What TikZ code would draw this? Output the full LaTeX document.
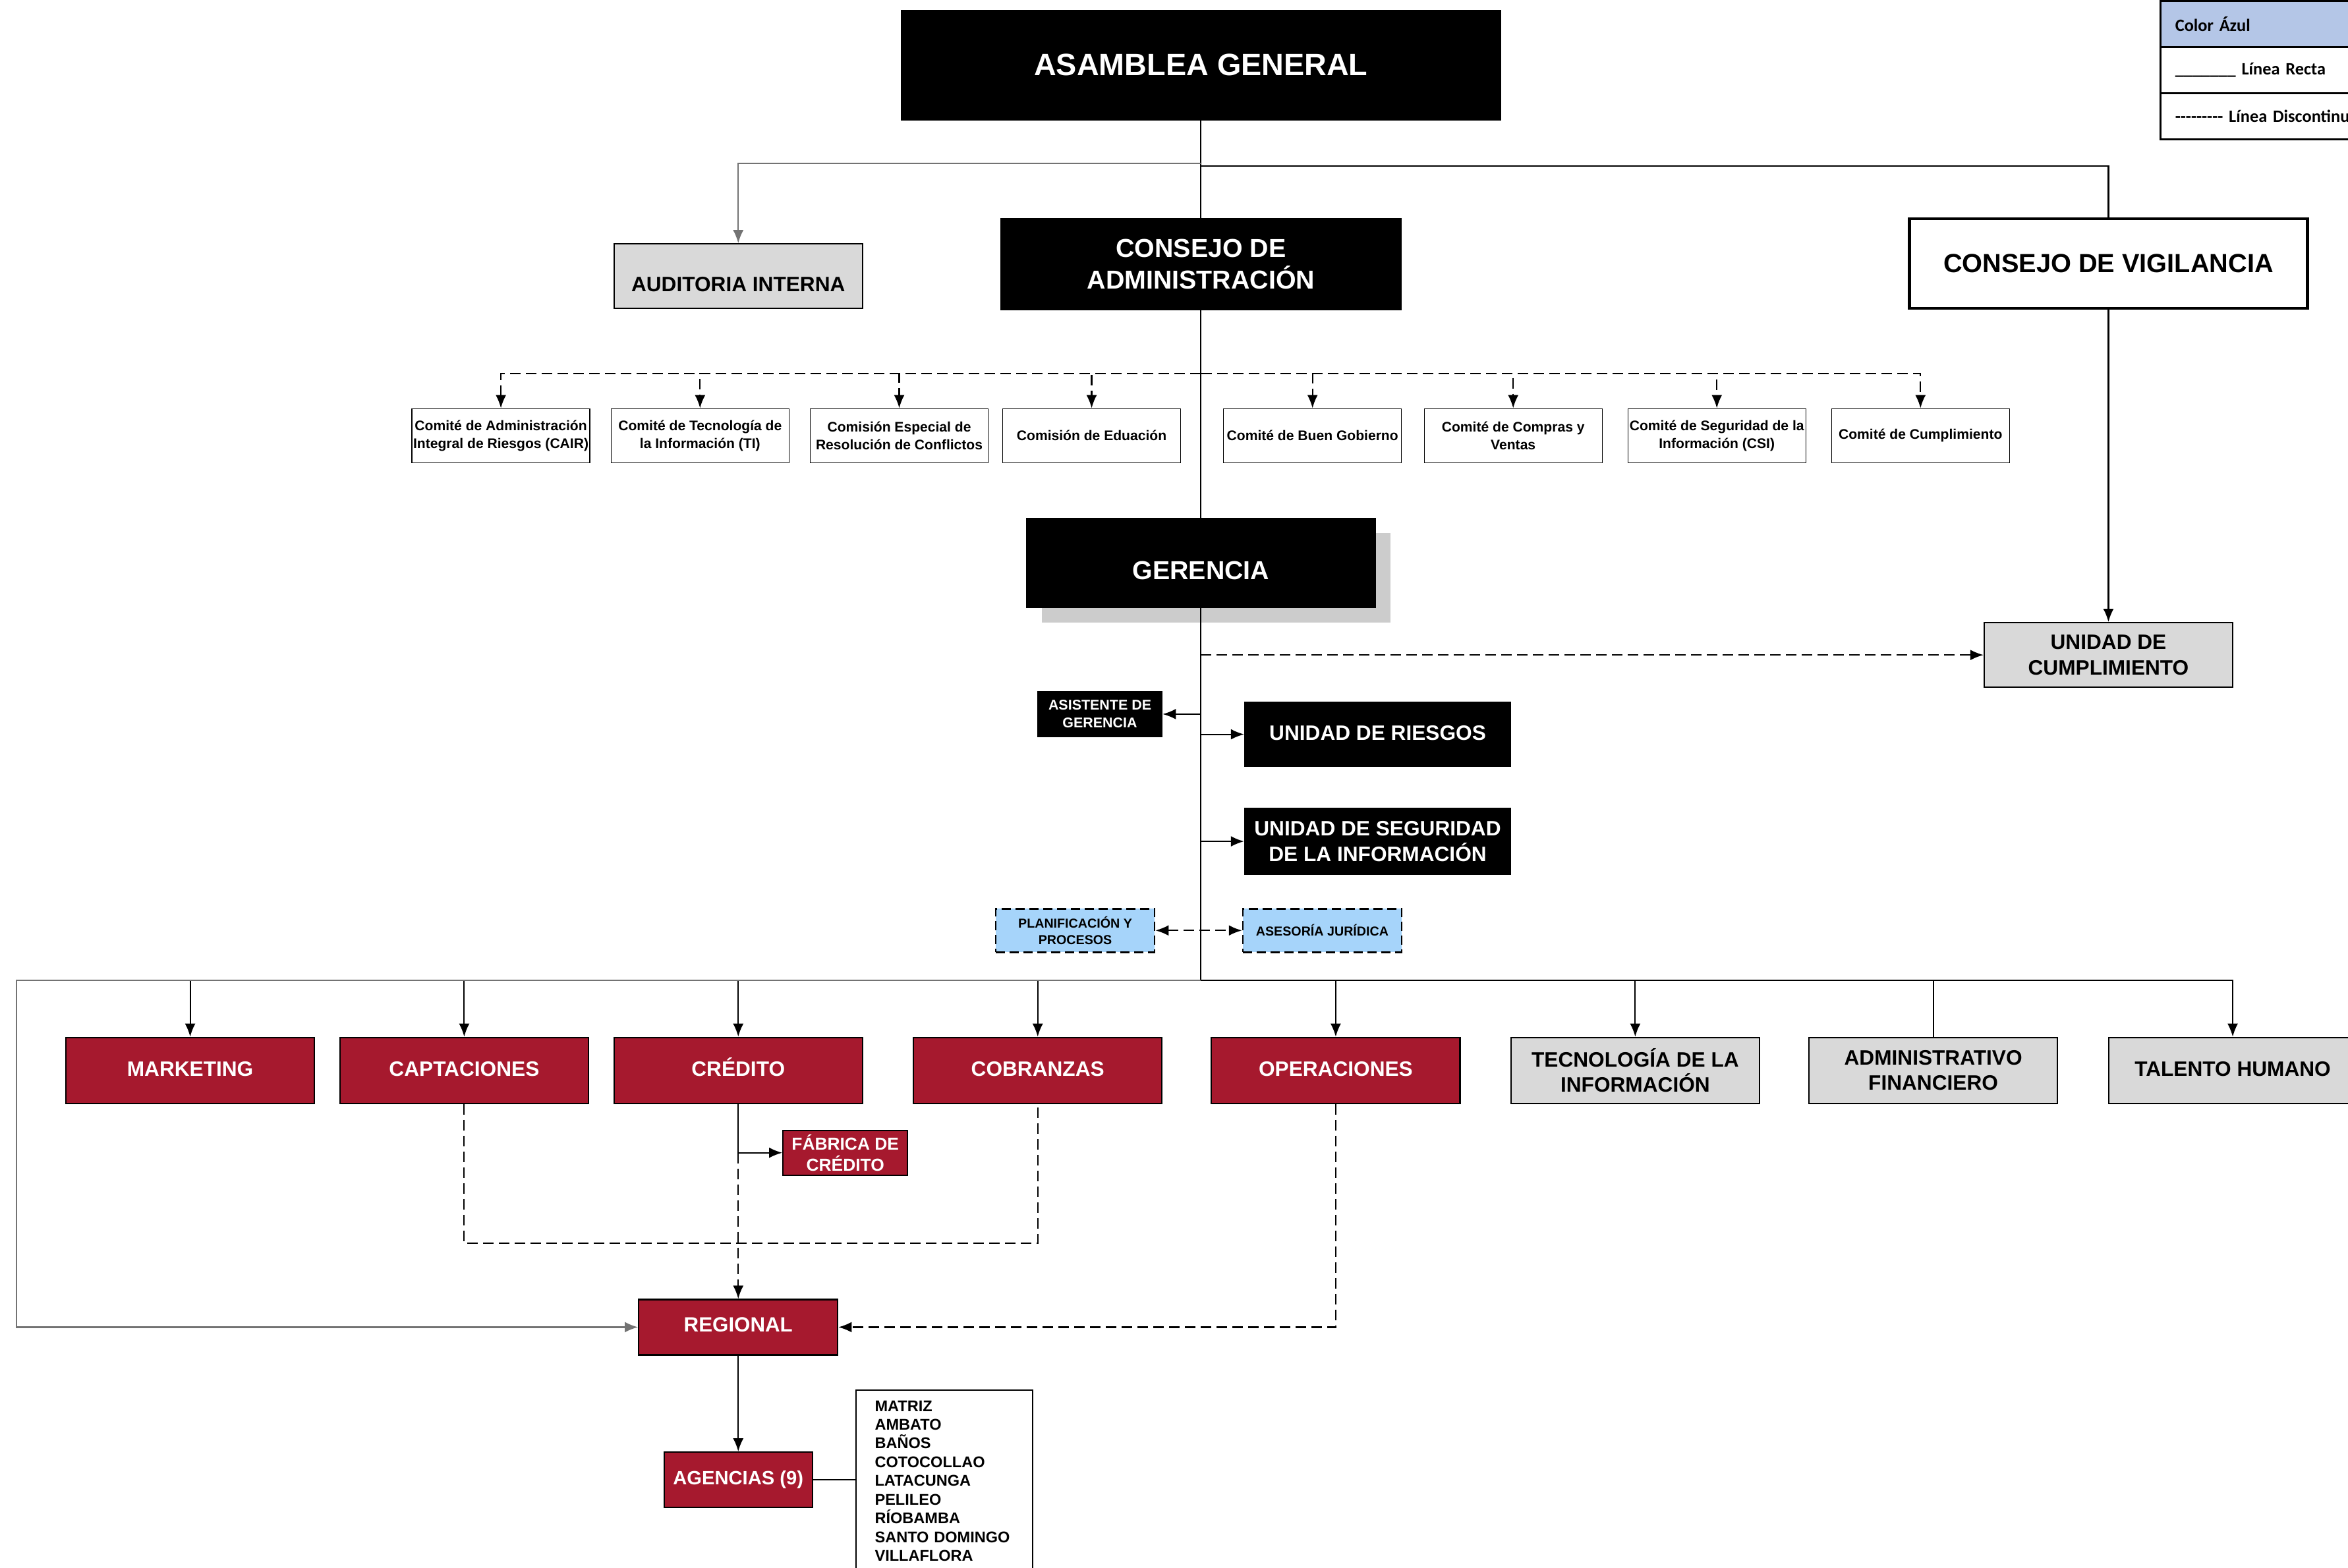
\documentclass[tikz,border=0pt]{standalone}
\usepackage{fontspec}
\setmainfont{Liberation Sans}
\newfontfamily\legendfont{Carlito}
\usetikzlibrary{arrows.meta,shadows}
\definecolor{credred}{RGB}{166,25,46}
\definecolor{boxgray}{RGB}{217,217,217}
\definecolor{shadowgray}{RGB}{204,204,204}
\definecolor{planblue}{RGB}{166,212,250}
\definecolor{legendblue}{RGB}{180,198,231}

\newcommand{\fsize}[2]{\bfseries\fontsize{#1}{#2}\selectfont}

\begin{document}
\begin{tikzpicture}[x=0.22723mm, y=-0.22723mm, >={Latex[length=2mm,width=1.6mm]},
    blackbox/.style={draw=black,fill=black,text=white,align=center,inner sep=1pt},
    graybox/.style={draw=black,fill=boxgray,align=center,inner sep=1pt,line width=0.6pt},
    redbox/.style={draw=black,fill=credred,text=white,align=center,inner sep=1pt,line width=0.6pt},
    bluebox/.style={draw=black,fill=planblue,dash pattern=on 1.4mm off 0.7mm,line width=0.7pt,align=center,inner sep=1pt},
    comitebox/.style={draw=black,fill=white,align=center,inner sep=0.5pt,line width=0.4pt,minimum width=27mm,minimum height=8.2mm,font=\fsize{6}{7.7}},
    deptbox/.style={minimum width=37.7mm,minimum height=10mm,font=\fsize{9}{11}},
    oneline/.style={text height=2.6mm,text depth=0.9mm},
    link/.style={draw=black,line width=0.6pt},
    graylink/.style={draw=black!55,line width=0.6pt},
    dashlink/.style={link,dash pattern=on 1.6mm off 0.8mm},
    legendrow/.style={draw=black,line width=0.8pt,anchor=north west,minimum height=7mm,text width=34mm,align=left,inner xsep=2.27mm,font=\legendfont\bfseries\fontsize{7.5}{9}\selectfont}]
    \useasboundingbox (0,0) rectangle (1568,1047);
    \clip (0,0) rectangle (1568,1047);

    % legend
    \node[legendrow,fill=legendblue] (legcolor) at (1442,0) {Color Ázul};
    \node[legendrow] (legrecta) at (1442,30.8) {\_\_\_\_\_\_\_ Línea Recta};
    \node[legendrow] (legdisc) at (1442,61.6) {-{}-{}-{}-{}-{}-{}-{}-{}- Línea Discontinua};

    % top levels
    \node[blackbox,minimum width=90.9mm,minimum height=16.6mm,font=\fsize{13.3}{16}] (asamblea) at (802,43.5) {ASAMBLEA GENERAL};
    \node[graybox,minimum width=37.7mm,minimum height=9.8mm,font=\fsize{9}{11},text height=4.6mm,text depth=0mm] (auditoria) at (493,184.5) {AUDITORIA INTERNA};
    \node[blackbox,minimum width=60.7mm,minimum height=13.9mm,font=\fsize{11.2}{13.6}] (consejoadm) at (802,176.5) {CONSEJO DE\\ADMINISTRACIÓN};
    \node[draw=black,line width=1.2pt,fill=white,minimum width=60.4mm,minimum height=13.6mm,font=\fsize{11.3}{13.6}] (vigilancia) at (1408,176) {CONSEJO DE VIGILANCIA};

    % comites
    \node[comitebox] (cair) at (334.5,291) {Comité de Administración\\Integral de Riesgos (CAIR)};
    \node[comitebox] (comiteti) at (467.5,291) {Comité de Tecnología de\\la Información (TI)};
    \node[comitebox] (conflictos) at (600.5,291) {Comisión Especial de\\Resolución de Conflictos};
    \node[comitebox] (educacion) at (729,291) {Comisión de Eduación};
    \node[comitebox] (gobierno) at (876.5,291) {Comité de Buen Gobierno};
    \node[comitebox] (compras) at (1010.5,291) {Comité de Compras y\\Ventas};
    \node[comitebox] (csi) at (1146.5,291) {Comité de Seguridad de la\\Información (CSI)};
    \node[comitebox] (cumplimientocom) at (1282.5,291) {Comité de Cumplimiento};

    % gerencia and staff units
    \node[blackbox,minimum width=52.9mm,minimum height=13.6mm,font=\fsize{11.2}{13.6},text height=5.1mm,text depth=0mm,drop shadow={shadow xshift=2.27mm,shadow yshift=-2.27mm,fill=shadowgray,opacity=1}] (gerencia) at (802,376) {GERENCIA};
    \node[graybox,minimum width=37.7mm,minimum height=9.8mm,font=\fsize{9}{11}] (cumplimiento) at (1408,437.5) {UNIDAD DE\\CUMPLIMIENTO};
    \node[blackbox,minimum width=18.9mm,minimum height=6.8mm,font=\fsize{6.1}{7.7}] (asistente) at (734.5,477) {ASISTENTE DE\\GERENCIA};
    \node[blackbox,oneline,minimum width=40.4mm,minimum height=9.8mm,font=\fsize{9}{11}] (riesgos) at (920,490.5) {UNIDAD DE RIESGOS};
    \node[blackbox,minimum width=40.4mm,minimum height=10mm,font=\fsize{9}{11}] (seguridad) at (920,562) {UNIDAD DE SEGURIDAD\\DE LA INFORMACIÓN};
    \node[bluebox,minimum width=24.1mm,minimum height=6.6mm,font=\fsize{5.6}{7.1}] (planificacion) at (718,621.5) {PLANIFICACIÓN Y\\PROCESOS};
    \node[bluebox,minimum width=24.1mm,minimum height=6.6mm,font=\fsize{5.6}{7.1}] (asesoria) at (883,621.5) {ASESORÍA JURÍDICA};

    % departamentos
    \node[redbox,deptbox,oneline] (marketing) at (127,715) {MARKETING};
    \node[redbox,deptbox,oneline] (captaciones) at (310,715) {CAPTACIONES};
    \node[redbox,deptbox,oneline] (credito) at (493,715) {CRÉDITO};
    \node[redbox,deptbox,oneline] (cobranzas) at (693,715) {COBRANZAS};
    \node[redbox,deptbox,oneline] (operaciones) at (892,715) {OPERACIONES};
    \node[graybox,deptbox] (tecnologia) at (1092,715) {TECNOLOGÍA DE LA\\INFORMACIÓN};
    \node[graybox,deptbox] (administrativo) at (1291,715) {ADMINISTRATIVO\\FINANCIERO};
    \node[graybox,deptbox,oneline] (talento) at (1491,715) {TALENTO HUMANO};

    % red network
    \node[redbox,minimum width=18.9mm,minimum height=6.8mm,font=\fsize{7.5}{9}] (fabrica) at (564.5,770) {FÁBRICA DE\\CRÉDITO};
    \node[redbox,minimum width=30.2mm,minimum height=8.4mm,font=\fsize{8.9}{11},text height=2.6mm,text depth=1.2mm] (regional) at (493,886.5) {REGIONAL};
    \node[redbox,minimum width=22.5mm,minimum height=8.4mm,font=\fsize{8.3}{10}] (agencias) at (493,988.5) {AGENCIAS (9)};
    \node[draw=black,line width=0.6pt,anchor=north west,align=left,inner xsep=2.9mm,inner ysep=1.6mm,text width=21mm,font=\fsize{6.7}{8.1}] (sucursales) at (571,928) {MATRIZ\\AMBATO\\BAÑOS\\COTOCOLLAO\\LATACUNGA\\PELILEO\\RÍOBAMBA\\SANTO DOMINGO\\VILLAFLORA};

    \coordinate (bus) at (802,655);
    \coordinate (busleft) at (11,655);

    % connectors
    \draw[link] (asamblea.south) -- (consejoadm.north);
    \draw[graylink,->] (asamblea.south |- 0,109) -| (auditoria.north);
    \draw[link] (asamblea.south |- 0,111) -| (vigilancia.north);
    \draw[link] (consejoadm.south) -- (gerencia.north);

    \draw[dashlink,->] (consejoadm.south) -- ++(0,42) -| (cair.north);
    \draw[dashlink,->] (consejoadm.south) -- ++(0,42) -| (comiteti.north);
    \draw[dashlink,->] (consejoadm.south) -- ++(0,42) -| (conflictos.north);
    \draw[dashlink,->] (consejoadm.south) -- ++(0,42) -| (educacion.north);
    \draw[dashlink,->] (consejoadm.south) -- ++(0,42) -| (gobierno.north);
    \draw[dashlink,->] (consejoadm.south) -- ++(0,42) -| (compras.north);
    \draw[dashlink,->] (consejoadm.south) -- ++(0,42) -| (csi.north);
    \draw[dashlink,->] (consejoadm.south) -- ++(0,42) -| (cumplimientocom.north);

    \draw[link] (gerencia.south) -- (bus);
    \draw[link,->] (vigilancia.south) -- (cumplimiento.north);
    \draw[dashlink,->] (gerencia.south |- cumplimiento.west) -- (cumplimiento.west);
    \draw[link,->] (gerencia.south |- asistente.east) -- (asistente.east);
    \draw[link,->] (gerencia.south |- riesgos.west) -- (riesgos.west);
    \draw[link,->] (gerencia.south |- seguridad.west) -- (seguridad.west);
    \draw[dashlink,<->] (planificacion.east) -- (asesoria.west);

    \draw[link,->] (bus) -| (marketing.north);
    \draw[link,->] (bus) -| (captaciones.north);
    \draw[link,->] (bus) -| (credito.north);
    \draw[link,->] (bus) -| (cobranzas.north);
    \draw[link,->] (bus) -| (operaciones.north);
    \draw[link,->] (bus) -| (tecnologia.north);
    \draw[link] (bus) -| (administrativo.north);
    \draw[link,->] (bus) -| (talento.north);
    \draw[graylink,->] (bus) -- (busleft) |- (regional.west);

    \draw[link] (credito.south) -- (credito.south |- fabrica.west);
    \draw[link,->] (credito.south |- fabrica.west) -- (fabrica.west);
    \draw[dashlink,->] (credito.south |- fabrica.west) -- (regional.north);
    \draw[dashlink] (captaciones.south) -- ++(0,93) -| (cobranzas.south);
    \draw[dashlink,->] (operaciones.south) |- (regional.east);
    \draw[link,->] (regional.south) -- (agencias.north);
    \draw[link] (agencias.east) -- (agencias.east -| sucursales.west);
\end{tikzpicture}
\end{document}
